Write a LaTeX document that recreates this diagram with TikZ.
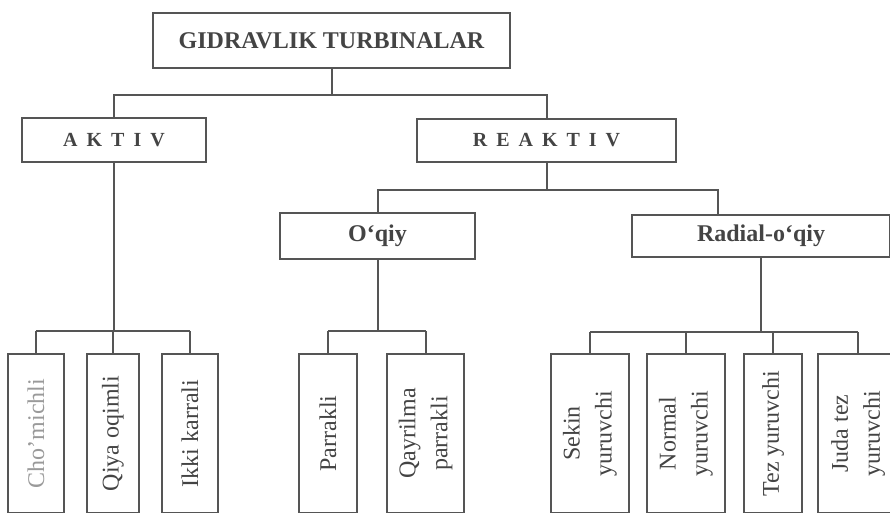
\documentclass[tikz,border=0pt]{standalone}
\usepackage{fontspec}
\setmainfont{Liberation Serif}
\usepackage{tikz}
\usetikzlibrary{positioning}
\definecolor{ink}{HTML}{555555}
\definecolor{txt}{HTML}{444444}
\definecolor{pale}{HTML}{9A9A9A}
\newcommand{\lsp}{\kern9pt}

\begin{document}
\begin{tikzpicture}[x=1pt,y=-1pt]
        \tikzstyle{box}=[draw=ink,line width=2pt,text=txt,inner sep=0pt]
        \tikzstyle{head}=[box,font=\fontsize{24}{28}\selectfont\bfseries]
        \tikzstyle{kind}=[box,font=\fontsize{20}{24}\selectfont\bfseries]
        \tikzstyle{leaf}=[box,rotate=90,minimum width=159pt,align=center,
            font=\fontsize{24}{32}\selectfont]
        \tikzstyle{link}=[draw=ink,line width=2pt]
        \useasboundingbox (0,0) rectangle (890,512);
        \clip (0,0) rectangle (890,512);

            \node[head,minimum width=357pt,minimum height=55pt] (root) at (331.5,40.5) {GIDRAVLIK TURBINALAR};

            \node[kind,minimum width=184pt,minimum height=44pt] (aktiv) at (114,140) {A\lsp K\lsp T\lsp I\lsp V};
            \node[kind,minimum width=259pt,minimum height=43pt] (reaktiv) at (546.5,140.5) {R\lsp E\lsp A\lsp K\lsp T\lsp I\lsp V};

            \node[head,minimum width=195pt,minimum height=46pt] (oqiy) at (377.5,236) {O‘qiy};
            \node[head,minimum width=258pt,minimum height=42pt] (radial) at (761,236) {Radial-o‘qiy};

            % aktiv turlari
            \node[leaf,minimum height=56pt,text=pale] (chomichli) at (36,433.5) {Cho'michli};
            \node[leaf,minimum height=52pt] (qiya) at (113,433.5) {Qiya oqimli};
            \node[leaf,minimum height=56pt] (ikki) at (190,433.5) {Ikki karrali};

            % o'qiy turlari
            \node[leaf,minimum height=58pt] (parrakli) at (328,433.5) {Parrakli};
            \node[leaf,minimum height=77pt] (qayrilma) at (425.5,433.5) {Qayrilma\\parrakli};

            % radial-o'qiy turlari
            \node[leaf,minimum height=78pt] (sekin) at (590,433.5) {Sekin\\yuruvchi};
            \node[leaf,minimum height=78pt] (normal) at (686,433.5) {Normal\\yuruvchi};
            \node[leaf,minimum height=58pt] (tez) at (773,433.5) {Tez yuruvchi};
            \node[leaf,minimum height=80pt] (juda) at (858,433.5) {Juda tez\\yuruvchi};

            \coordinate (j0) at ([yshift=-26pt]root.south);
            \draw[link] (root) -- (j0);
            \draw[link] (aktiv.north) |- (j0) -| (reaktiv.north);

            \coordinate (j1) at ([yshift=-27pt]reaktiv.south);
            \draw[link] (reaktiv) -- (j1);
            \draw[link] (oqiy.north) |- (j1) -| ([xshift=-43pt]radial.north);

            \coordinate (j2) at ([yshift=-168pt]aktiv.south);
            \draw[link] (aktiv) -- (j2);
            \draw[link] (chomichli.east |- j2) -- (ikki.east |- j2);
            \foreach \c in {chomichli,qiya,ikki}
                \draw[link] (\c.east) -- (\c.east |- j2);

            \coordinate (j3) at ([yshift=-71pt]oqiy.south);
            \draw[link] (oqiy) -- (j3);
            \draw[link] (parrakli.east |- j3) -- (qayrilma.east |- j3);
            \foreach \c in {parrakli,qayrilma}
                \draw[link] (\c.east) -- (\c.east |- j3);

            \coordinate (j4) at ([yshift=-74pt]radial.south);
            \draw[link] (radial) -- (j4);
            \draw[link] (sekin.east |- j4) -- (juda.east |- j4);
            \foreach \c in {sekin,normal,tez,juda}
                \draw[link] (\c.east) -- (\c.east |- j4);
\end{tikzpicture}
\end{document}
